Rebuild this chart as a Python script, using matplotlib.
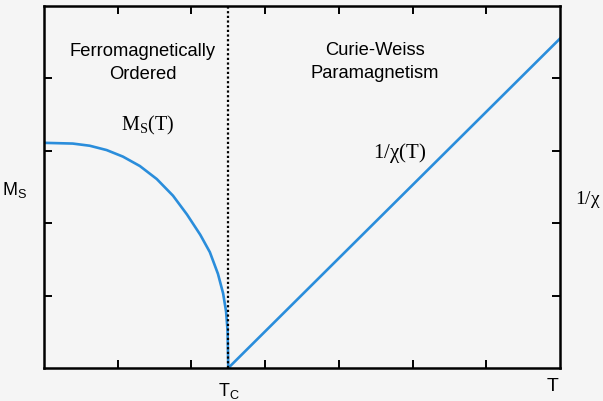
import matplotlib.pyplot as plt
import numpy as np

# spontaneous magnetisation below Tc
t_ms = [0.0, 0.39, 0.62, 0.85, 1.07, 1.30, 1.53, 1.75, 1.94, 2.12, 2.25, 2.36, 2.43, 2.47, 2.49, 2.5]
ms = [3.11, 3.10, 3.07, 3.01, 2.92, 2.79, 2.61, 2.38, 2.12, 1.84, 1.60, 1.30, 1.03, 0.78, 0.52, 0.0]

# inverse susceptibility above Tc
t_chi = [2.5, 7.0]
inv_chi = [0.0, 4.55]

tc = 2.5
xticks = [1, 2, 3, 4, 5, 6]
yticks = [1, 2, 3, 4]

blue = "#2a8ddb"
bg = "#f5f5f5"
sans = "Liberation Sans"
serif = "Liberation Serif"

fig = plt.figure(figsize=(6.03, 4.02), dpi=100, facecolor=bg)
ax = fig.add_axes([44/603, 33/402, 516/603, 362/402], facecolor=bg)

ax.plot(t_ms, ms, color=blue, lw=1.9, solid_capstyle="butt", solid_joinstyle="round")
ax.plot(t_chi, inv_chi, color=blue, lw=1.9)
ax.axvline(tc, color="black", ls=(0, (1, 1.1)), lw=1.6)

ax.set_xlim(0, 7)
ax.set_ylim(0, 5)
ax.set_xticks(xticks)
ax.set_yticks(yticks)
ax.tick_params(direction="in", length=6, width=1.4, top=True, right=True,
               labelbottom=False, labelleft=False)
for s in ax.spines.values():
    s.set_linewidth(1.8)

ax.text(1.34, 4.23, "Ferromagnetically\nOrdered", ha="center", va="center",
        family=sans, fontsize=13.2, linespacing=1.45)
ax.text(4.49, 4.24, "Curie-Weiss\nParamagnetism", ha="center", va="center",
        family=sans, fontsize=13.2, linespacing=1.45)
ax.text(1.41, 3.37, r"$\mathregular{M_S(T)}$", ha="center", va="center",
        family=serif, fontsize=14.5)
ax.text(4.83, 2.98, r"$\mathregular{1/\chi(T)}$", ha="center", va="center",
        family=serif, fontsize=15)

fig.text(15/603, 1 - 190/402, r"$\mathregular{M_S}$", ha="center", va="center",
         family=sans, fontsize=13)
fig.text(588/603, 1 - 200/402, r"$\mathregular{1/\chi}$", ha="center", va="center",
         family=serif, fontsize=14)
fig.text(229/603, 1 - 391/402, r"$\mathregular{T_C}$", ha="center", va="center",
         family=sans, fontsize=13)
fig.text(553/603, 1 - 387/402, "T", ha="center", va="center",
         family=sans, fontsize=14)

fig.savefig("out.png", dpi=100, facecolor=bg)
